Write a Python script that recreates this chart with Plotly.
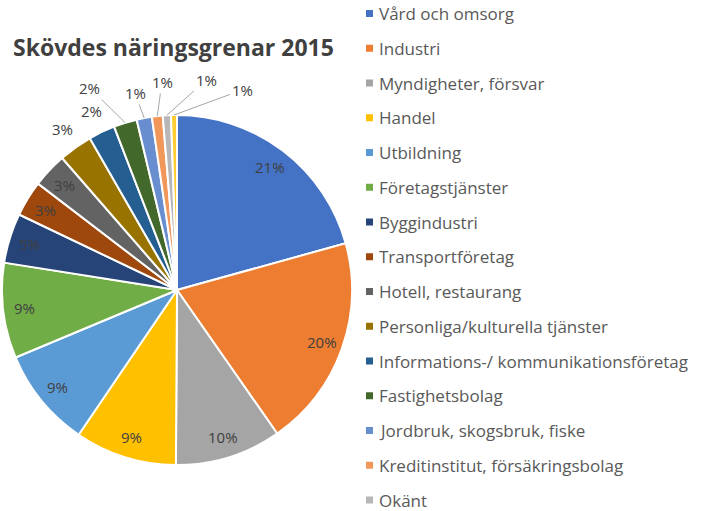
import math
import plotly.graph_objects as go

# ---- data ----
categories = [
    "Vård och omsorg", "Industri", "Myndigheter, försvar", "Handel", "Utbildning",
    "Företagstjänster", "Byggindustri", "Transportföretag", "Hotell, restaurang",
    "Personliga/kulturella tjänster", "Informations-/ kommunikationsföretag",
    "Fastighetsbolag", "Jordbruk, skogsbruk, fiske", "Kreditinstitut, försäkringsbolag",
    "Okänt", "Övrigt",
]
values = [20.7, 19.6, 9.8, 9.4, 9.2, 8.8, 4.6, 3.3, 3.2, 3.1, 2.45, 2.15, 1.4, 1.0, 0.75, 0.55]
legend_count = 15  # legend in the reference shows the first 15 items
title_text = "Skövdes näringsgrenar 2015"

# ---- styles ----
colors = ["#4472C4", "#ED7D31", "#A5A5A5", "#FFC000", "#5B9BD5", "#70AD47",
          "#264478", "#9E480E", "#636363", "#997300", "#255E91", "#43682B",
          "#698ED0", "#F1975A", "#B7B7B7", "#FFCD33"]
FONT = "Open Sans"
TXT = "#404040"
LEG = "#595959"

W, H = 703, 511
CX, CY, R = 177, 290, 175

def px(x):
    return x / W

def py(y):
    return 1 - y / H

fig = go.Figure(go.Pie(
    labels=categories, values=values, sort=False, direction="clockwise", rotation=0,
    marker=dict(colors=colors, line=dict(color="white", width=2)),
    textinfo="none", hoverinfo="label+percent", showlegend=False,
    domain=dict(x=[px(CX - R), px(CX + R)], y=[py(CY + R), py(CY - R)]),
))

total = sum(values)
annotations = []
# leader-line label positions (pixels) for the smallest slices
leader_pos = {11: (90, 88), 12: (135, 93), 13: (162, 82), 14: (206, 80), 15: (242, 90)}
cum = 0.0
for i, v in enumerate(values):
    mid = (cum + v / 2) / total * 2 * math.pi
    cum += v
    label = f"{v / total * 100:.0f}%"
    if i in leader_pos:
        tx, ty = CX + R * math.sin(mid), CY - R * math.cos(mid)
        lx, ly = leader_pos[i]
        annotations.append(dict(
            x=px(tx), y=py(ty), xref="paper", yref="paper", text=label,
            showarrow=True, arrowhead=0, arrowwidth=1, arrowcolor="#A6A6A6",
            ax=lx - tx, ay=ly - ty, font=dict(family=FONT, size=15, color=TXT),
        ))
    else:
        rr = 0.88 * R if i <= 8 else 1.13 * R
        lx, ly = CX + rr * math.sin(mid), CY - rr * math.cos(mid)
        annotations.append(dict(
            x=px(lx), y=py(ly), xref="paper", yref="paper", text=label,
            showarrow=False, xanchor="center", yanchor="middle",
            font=dict(family=FONT, size=15, color=TXT),
        ))

# title
annotations.append(dict(
    x=px(11), y=py(47), xref="paper", yref="paper", text=f"<b>{title_text}</b>",
    showarrow=False, xanchor="left", yanchor="middle",
    font=dict(family=FONT, size=23, color=TXT),
))

# legend (first 15 categories)
shapes = []
for i in range(legend_count):
    yc = 13.5 + 34.75 * i
    shapes.append(dict(type="rect", xref="paper", yref="paper",
                       x0=px(366), x1=px(373), y0=py(yc + 3.5), y1=py(yc - 3.5),
                       fillcolor=colors[i], line=dict(width=0)))
    annotations.append(dict(
        x=px(378), y=py(yc), xref="paper", yref="paper", text=categories[i],
        showarrow=False, xanchor="left", yanchor="middle", borderpad=0,
        font=dict(family=FONT, size=17, color=LEG),
    ))

fig.update_layout(
    width=W, height=H, margin=dict(l=0, r=0, t=0, b=0),
    paper_bgcolor="white", plot_bgcolor="white",
    annotations=annotations, shapes=shapes,
)

fig.write_html(
    "out.html",
    config={"displayModeBar": False},
    post_script="document.body.style.margin='0';document.body.style.overflow='hidden';",
)
